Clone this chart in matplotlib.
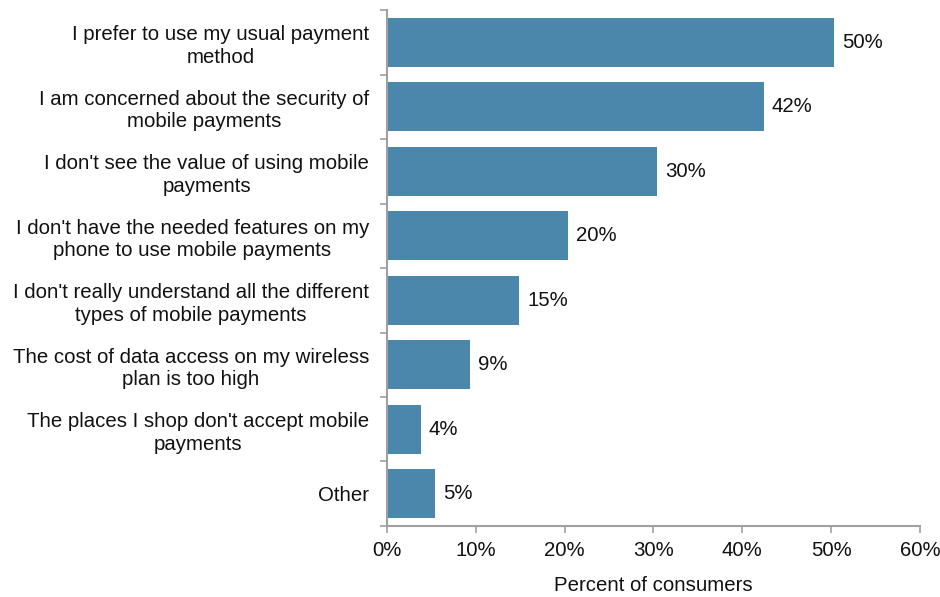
import matplotlib

matplotlib.use("Agg")
import matplotlib.pyplot as plt
import numpy as np
from matplotlib.ticker import FixedLocator, PercentFormatter

reasons = [
    "I prefer to use my usual payment\nmethod",
    "I am concerned about the security of\nmobile payments",
    "I don't see the value of using mobile\npayments",
    "I don't have the needed features on my\nphone to use mobile payments",
    "I don't really understand all the different\ntypes of mobile payments",
    "The cost of data access on my wireless\nplan is too high",
    "The places I shop don't accept mobile\npayments",
    "Other",
]
share = [50.3, 42.4, 30.4, 20.4, 14.9, 9.4, 3.8, 5.4]
x_ticks = [0, 10, 20, 30, 40, 50, 60]

plt.rcParams["font.family"] = ["Liberation Sans", "DejaVu Sans"]
plt.rcParams["font.size"] = 14.7

fig = plt.figure(figsize=(9.4, 5.97), dpi=100)
ax = fig.add_axes([0.4117, 0.119, 0.567, 0.864])

pos = np.arange(len(reasons))
bars = ax.barh(pos, share, height=0.76, color="#4a87ab")

for bar, v in zip(bars, share):
    ax.text(bar.get_width() + 0.9, bar.get_y() + bar.get_height() / 2,
            f"{v:.0f}%", va="center", ha="left", color="#111111")

ax.set_ylim(len(reasons) - 0.5, -0.5)
ax.set_xlim(0, 60)

ax.set_yticks(pos)
ax.set_yticklabels(reasons, ha="right", multialignment="center",
                   color="#111111", linespacing=1.22)
ax.yaxis.set_minor_locator(FixedLocator(np.arange(-0.5, len(reasons), 1)))
ax.tick_params(axis="y", which="major", length=0, pad=13)
ax.tick_params(axis="y", which="minor", length=5, color="#a0a0a0", width=1.2)

ax.set_xticks(x_ticks)
ax.xaxis.set_major_formatter(PercentFormatter(decimals=0))
ax.tick_params(axis="x", length=5, color="#a0a0a0", width=1.2, pad=6, labelcolor="#111111")
ax.set_xlabel("Percent of consumers", labelpad=11, color="#111111")

for side in ("top", "right"):
    ax.spines[side].set_visible(False)
for side in ("left", "bottom"):
    ax.spines[side].set_color("#a0a0a0")
    ax.spines[side].set_linewidth(1.5)

fig.savefig("out.png", dpi=100)
